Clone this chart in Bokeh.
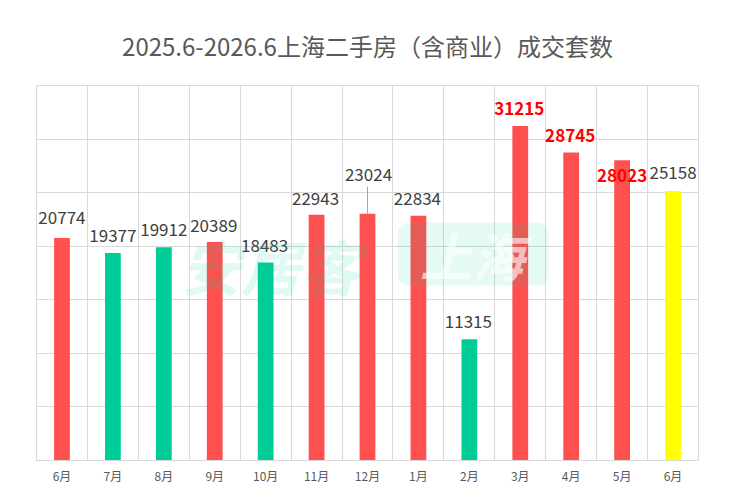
from bokeh.plotting import figure
from bokeh.models import ColumnDataSource, FixedTicker, Label, BoxAnnotation
from bokeh.core.properties import value
from bokeh.embed import file_html
from bokeh.resources import INLINE

# ---- data ----
months = ["6月", "7月", "8月", "9月", "10月", "11月", "12月", "1月", "2月", "3月", "4月", "5月", "6月"]
deals = [20774, 19377, 19912, 20389, 18483, 22943, 23024, 22834, 11315, 31215, 28745, 28023, 25158]
bar_colors = ["#FF5050", "#00CC99", "#00CC99", "#FF5050", "#00CC99", "#FF5050", "#FF5050",
              "#FF5050", "#00CC99", "#FF5050", "#FF5050", "#FF5050", "#FFFF00"]
label_colors = ["#404040"] * 9 + ["#FF0000", "#FF0000", "#FF0000", "#404040"]
label_styles = ["normal"] * 9 + ["bold", "bold", "bold", "normal"]
# label offsets in screen pixels (style)
label_dy = [-20, -17, -18, -17, -17, -16, -39, -17, -18, -18, -17, 15, -18]
label_dx = [0, 0, 0, -1, -1, -1, 1, -1, -1, -1, -1, 0, 0]

FONT = "Noto Sans CJK SC"
Y_MAX = 35000

xs = list(range(len(months)))
src = ColumnDataSource(dict(x=xs, v=deals, c=bar_colors, t=[str(d) for d in deals],
                            lc=label_colors, ls=label_styles, dx=label_dx, dy=label_dy))

W, H = 728, 494
p = figure(width=W, height=H, output_backend="svg", toolbar_location=None,
           x_range=(-0.5, len(months) - 0.5), y_range=(0, Y_MAX),
           min_border_left=36, min_border_right=30, min_border_top=85, min_border_bottom=34,
           title="2025.6-2026.6上海二手房（含商业）成交套数")
p.title.align = "center"
p.title.text_font = FONT
p.title.text_font_size = "24px"
p.title.text_font_style = "normal"
p.title.text_color = "#595959"
p.title.standoff = 45

p.outline_line_color = "#D9D9D9"
p.background_fill_color = "white"
p.border_fill_color = "white"

# grids
p.ygrid.ticker = FixedTicker(ticks=list(range(0, Y_MAX + 1, 5000)))
p.ygrid.grid_line_color = "#D9D9D9"
p.xgrid.ticker = FixedTicker(ticks=[i - 0.5 for i in range(len(months) + 1)])
p.xgrid.grid_line_color = "#D9D9D9"

# axes
p.yaxis.visible = False
p.xaxis.ticker = FixedTicker(ticks=xs)
p.xaxis.major_label_overrides = {i: m for i, m in enumerate(months)}
p.xaxis.axis_line_color = "#D9D9D9"
p.xaxis.major_tick_line_color = None
p.xaxis.minor_tick_line_color = None
p.xaxis.major_tick_out = 0
p.xaxis.major_tick_in = 0
p.xaxis.major_label_text_font = FONT
p.xaxis.major_label_text_font_size = "12px"
p.xaxis.major_label_text_color = "#595959"
p.xaxis.major_label_standoff = 6

# bars
p.vbar(x="x", top="v", width=0.31, fill_color="c", line_color=None, source=src)

# leader line for the 12月 label
px_per_unit = 375 / Y_MAX
i6 = 6
p.segment(x0=[xs[i6]], y0=[deals[i6]], x1=[xs[i6]], y1=[deals[i6] + 27 / px_per_unit],
          line_color="#A6A6A6", line_width=1)

# value labels
p.text(x="x", y="v", text="t", source=src, x_offset="dx", y_offset="dy",
       text_align="center", text_baseline="middle",
       text_font=value(FONT), text_font_size="17px",
       text_color="lc", text_font_style="ls")

# faint watermark
p.add_layout(Label(x=4.1, y=18300, text="安居客", text_font=FONT, text_font_size="60px",
                   text_font_style="bold italic", text_color="#00CC99", text_alpha=0.12,
                   text_align="center", text_baseline="middle"))
p.add_layout(BoxAnnotation(left=6.6, right=9.55, bottom=16300, top=22200,
                           fill_color="#00CC99", fill_alpha=0.1, line_color=None,
                           border_radius=10))
p.add_layout(Label(x=8.05, y=19200, text="上海", text_font=FONT, text_font_size="52px",
                   text_font_style="bold italic", text_color="#FFFFFF", text_alpha=0.6,
                   text_align="center", text_baseline="middle"))

open("out.html", "w").write(file_html(p, INLINE))
